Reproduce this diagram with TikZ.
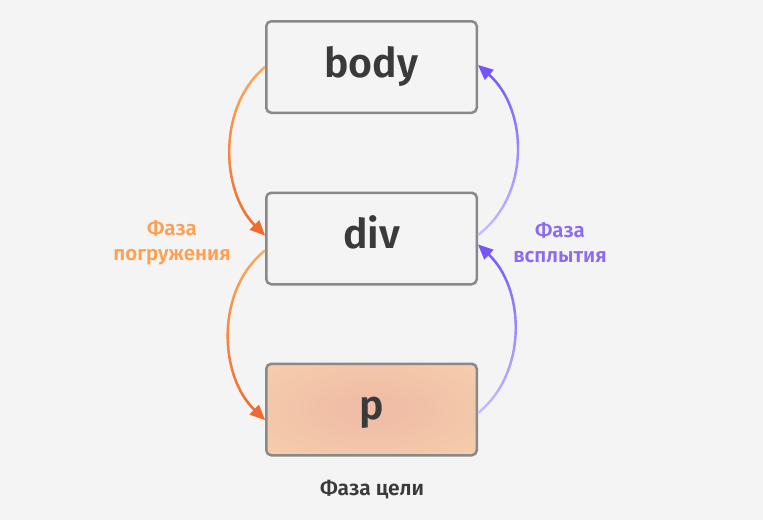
\documentclass[tikz,border=0pt]{standalone}
\usepackage{fontspec}
\setmainfont{Fira Sans}[BoldFont={Fira Sans SemiBold}]
\usetikzlibrary{arrows.meta,fadings}
\definecolor{bg}{HTML}{F4F4F4}
\definecolor{boxgray}{HTML}{8A8888}
\definecolor{txt}{HTML}{3A3A3A}
\definecolor{olight}{HTML}{FFA858}
\definecolor{odark}{HTML}{EE6A30}
\definecolor{plight}{HTML}{C8BEFF}
\definecolor{pdark}{HTML}{7352FF}
\definecolor{olabel}{HTML}{FFA050}
\definecolor{plabel}{HTML}{8B6CF0}
\definecolor{pin}{HTML}{F0BEA6}
\definecolor{pout}{HTML}{F8D6AE}
\pgfdeclareradialshading{pshade}{\pgfpoint{0bp}{0bp}}{color(0bp)=(pin); color(8bp)=(pin); color(48bp)=(pout); color(60bp)=(pout)}
\begin{document}
\begin{tikzpicture}[x=1pt,y=-1pt,
  box/.style={draw=boxgray, line width=2.5pt, rounded corners=5pt,
    minimum width=210.5pt, minimum height=91.5pt, inner sep=0pt,
    fill=bg, text=txt, font=\fontsize{41}{42}\selectfont\bfseries,
    text height=29pt, text depth=9pt},
  conn/.style={line width=2.4pt},
  tip/.style={-{Triangle[length=15pt,width=13pt]}},
  lbl/.style={align=center, font=\fontsize{20.5}{25}\selectfont\bfseries}]
\fill[bg] (0,0) rectangle (763,520);
\useasboundingbox (0,0) rectangle (763,520);

\node[box] (body) at (371.5,67) {body};
\node[box] (div) at (371.5,238.5) {div};
\node[box, shading=pshade] (p) at (371.5,409.5) {p};

% capture phase (orange)
\draw[conn, olight, tip] (body.west) .. controls +(-48,40) and +(-44,-44) .. ([yshift=3pt]div.west);
\draw[conn, odark, tip, path fading=north] (body.west) .. controls +(-48,40) and +(-44,-44) .. ([yshift=3pt]div.west);
\draw[conn, olight, tip] ([yshift=-12pt]div.west) .. controls +(-50,40) and +(-46,-44) .. ([yshift=-10.5pt]p.west);
\draw[conn, odark, tip, path fading=north] ([yshift=-12pt]div.west) .. controls +(-50,40) and +(-46,-44) .. ([yshift=-10.5pt]p.west);

% bubbling phase (purple)
\draw[conn, plight, tip] ([yshift=3.5pt]div.east) .. controls +(53,-40) and +(50,44) .. ([yshift=2pt]body.east);
\draw[conn, pdark, tip, path fading=south] ([yshift=3.5pt]div.east) .. controls +(53,-40) and +(50,44) .. ([yshift=2pt]body.east);
\draw[conn, plight, tip] ([yshift=-3.5pt]p.east) .. controls +(50,-40) and +(47,44) .. ([yshift=-6pt]div.east);
\draw[conn, pdark, tip, path fading=south] ([yshift=-3.5pt]p.east) .. controls +(50,-40) and +(47,44) .. ([yshift=-6pt]div.east);

\node[lbl, text=olabel] (cap) at (172,243) {Фаза\\погружения};
\node[lbl, text=plabel] (bub) at (560,243) {Фаза\\всплытия};
\node[lbl, text=txt, font=\fontsize{21}{25}\selectfont\bfseries] (tgt) at (372,490) {Фаза цели};
\end{tikzpicture}
\end{document}
